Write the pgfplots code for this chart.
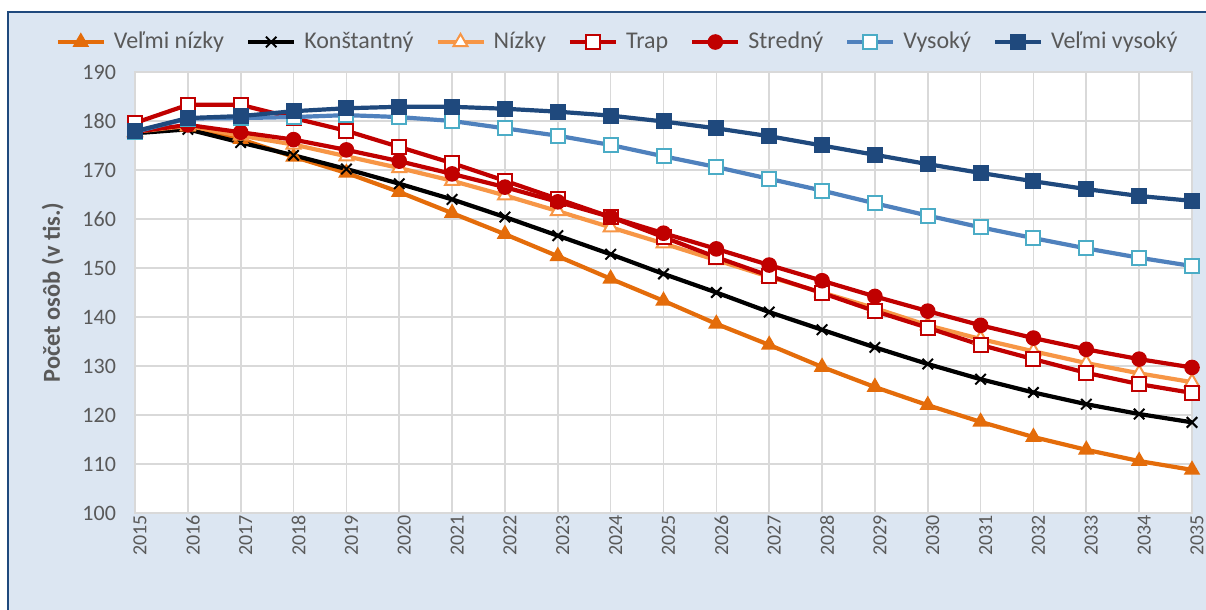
\documentclass[border=0pt]{standalone}
\usepackage{pgfplots}
\pgfplotsset{compat=1.18}
\usepackage{pgfplotstable}
\usepackage{fontspec}
\setmainfont{Carlito}
\definecolor{bg}{HTML}{DCE6F2}
\definecolor{frame}{HTML}{1F497D}
\definecolor{gridc}{HTML}{D9D9D9}
\definecolor{txt}{HTML}{595959}
\definecolor{vnizky}{HTML}{E46C0A}
\definecolor{nizky}{HTML}{F79646}
\definecolor{trap}{HTML}{C00000}
\definecolor{vys}{HTML}{4F81BD}
\definecolor{vysm}{HTML}{4BACC6}
\definecolor{vvys}{HTML}{1F497D}

\pgfplotstableread{
year vn ko ni tr st vy vv
2015 177.6 177.5 177.8 179.6 177.8 177.8 177.9
2016 178.8 178.3 179.0 183.3 179.2 180.5 180.6
2017 176.3 175.6 177.0 183.3 177.7 180.6 181.0
2018 172.7 173.0 175.2 180.6 176.2 180.8 182.0
2019 169.4 170.2 172.8 178.0 174.1 181.2 182.6
2020 165.5 167.2 170.4 174.7 171.8 180.8 182.9
2021 161.2 164.0 167.8 171.4 169.2 180.0 182.9
2022 156.9 160.4 164.8 167.8 166.5 178.5 182.5
2023 152.4 156.6 161.6 164.1 163.5 177.0 181.9
2024 147.8 152.8 158.3 160.4 160.4 175.1 181.1
2025 143.3 148.8 155.0 156.3 157.1 172.8 179.9
2026 138.6 145.0 151.6 152.2 153.9 170.6 178.5
2027 134.3 141.0 148.2 148.4 150.6 168.2 176.9
2028 129.8 137.4 145.0 144.9 147.4 165.8 175.0
2029 125.7 133.8 141.8 141.2 144.2 163.2 173.1
2030 122.0 130.4 138.3 137.8 141.2 160.7 171.2
2031 118.6 127.3 135.5 134.3 138.3 158.3 169.4
2032 115.5 124.6 133.0 131.4 135.7 156.1 167.7
2033 112.9 122.2 130.6 128.6 133.4 154.0 166.1
2034 110.6 120.2 128.5 126.3 131.4 152.1 164.7
2035 108.8 118.5 126.7 124.5 129.7 150.4 163.7
}\data

\begin{document}
\begin{tikzpicture}
\useasboundingbox (0,0) rectangle (603pt,305pt);
\fill[white] (0,0) rectangle (603pt,305pt);
\fill[bg] (4pt,-3pt) rectangle (606pt,299pt);
\draw[frame,line width=0.8pt] (4pt,-3pt) -- (4pt,299pt) -- (606pt,299pt);
\begin{axis}[
  at={(67.5pt,48.5pt)}, anchor=south west,
  width=528.5pt, height=220.5pt, scale only axis,
  xmin=2015, xmax=2035, ymin=100, ymax=190,
  xtick={2015,2016,...,2035}, ytick={100,110,...,190},
  grid=major, grid style={gridc, line width=0.8pt},
  axis line style={gridc, line width=0.8pt},
  axis background/.style={fill=white},
  major tick length=0pt,
  clip=false,
  /pgf/number format/.cd, 1000 sep={}, assume math mode=true,
  /pgfplots/.cd,
  yticklabel style={font=\fontsize{11}{12}\selectfont, text=txt, xshift=-6pt},
  xticklabel style={font=\fontsize{10}{12}\selectfont, text=txt, rotate=90, anchor=east, yshift=-2.5pt, inner sep=1pt},
  ylabel={Počet osôb (v tis.)},
  ylabel style={font=\fontsize{12.2}{14}\selectfont\bfseries, text=txt, at={(axis description cs:-0.078,0.5)}, anchor=center},
  legend columns=7,
  legend style={draw=none, fill=none, at={(axis description cs:0.4575,1.068)}, anchor=center,
    font=\fontsize{12}{14}\selectfont, text=txt,
    /tikz/every even column/.append style={column sep=9pt},
    /tikz/every odd column/.append style={column sep=2pt}},
  legend image code/.code={\draw[mark repeat=2,mark phase=2,#1] plot coordinates {(0pt,0pt)(11.5pt,0pt)(23pt,0pt)};},
  every axis plot/.append style={line width=2.1pt},
]
\addplot[vnizky, mark=triangle*, mark size=4pt, mark options={line width=0.8pt}] table[x=year,y=vn]{\data};
\addlegendentry{Veľmi nízky}
\addplot[black, mark=x, mark size=3.7pt, mark options={line width=1pt}] table[x=year,y=ko]{\data};
\addlegendentry{Konštantný}
\addplot[nizky, mark=triangle*, mark size=4pt, mark options={fill=white, line width=1pt}] table[x=year,y=ni]{\data};
\addlegendentry{Nízky}
\addplot[trap, mark=square*, mark size=3.5pt, mark options={fill=white, line width=1pt}] table[x=year,y=tr]{\data};
\addlegendentry{Trap}
\addplot[trap, mark=*, mark size=3.6pt, mark options={line width=0.6pt}] table[x=year,y=st]{\data};
\addlegendentry{Stredný}
\addplot[vys, mark=square*, mark size=3.5pt, mark options={fill=white, draw=vysm, line width=1pt}] table[x=year,y=vy]{\data};
\addlegendentry{Vysoký}
\addplot[vvys, mark=square*, mark size=3.7pt, mark options={line width=0.6pt}] table[x=year,y=vv]{\data};
\addlegendentry{Veľmi vysoký}
\end{axis}
\end{tikzpicture}
\end{document}
